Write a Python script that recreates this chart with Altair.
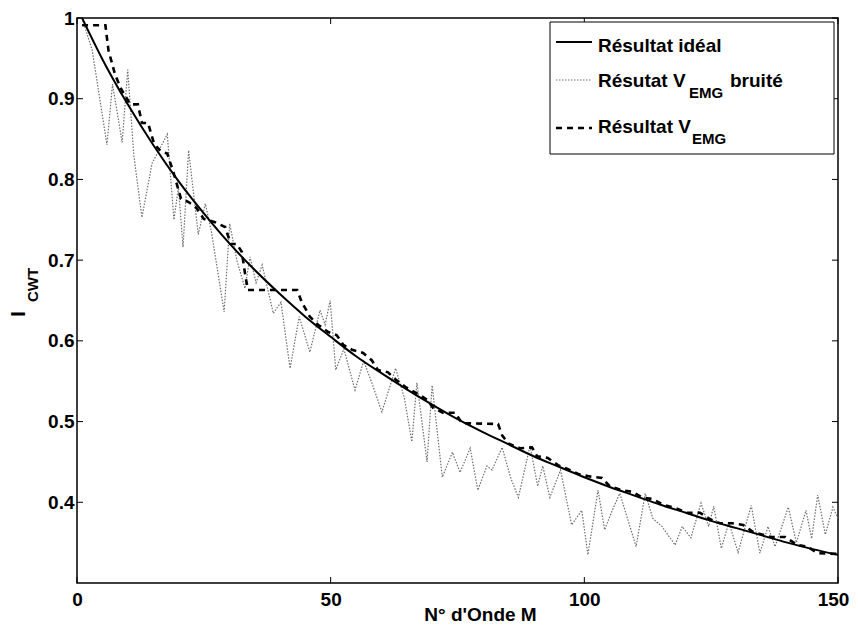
import altair as alt
import pandas as pd

# ---------------- data ----------------
ideal_x = [1, 5, 10, 15, 20, 25, 30, 35, 40, 45, 50, 55, 60, 65, 70, 75, 80, 85,
           90, 95, 100, 105, 110, 115, 120, 125, 130, 135, 140, 145, 150]
ideal_y = [1.000, 0.949, 0.893, 0.843, 0.798, 0.758, 0.721, 0.688, 0.658, 0.630,
           0.605, 0.581, 0.560, 0.540, 0.521, 0.503, 0.487, 0.472, 0.457, 0.444,
           0.431, 0.419, 0.408, 0.397, 0.387, 0.377, 0.368, 0.359, 0.350, 0.342, 0.335]

noisy_x = [1, 3, 5.9, 7, 8.9, 10, 11.2, 12.8, 14.8, 17.8,
           19.1, 20, 20.9, 22, 23.9, 25.3, 26.5, 29, 30.1, 31.5,
           33.1, 34.1, 35.3, 36.5, 38.7, 40.2, 42, 43.8, 45.9, 47.9,
           48.9, 49.9, 51, 52.6, 54.8, 56.5, 58, 60.1, 62.8, 64.5,
           66, 67, 69, 70, 72, 74, 75.5, 77.5, 79, 80.8,
           81.8, 83.8, 85.5, 87, 89.3, 90.8, 91.8, 93.2, 95.3, 97.5,
           99.5, 100.7, 102.7, 104, 105.5, 107, 110.2, 112, 113.5, 115.3,
           117.9, 119.3, 121, 123, 124.5, 125.5, 127, 128.5, 130.3, 132.9,
           134.6, 136.2, 137.6, 140.2, 141.8, 143.7, 144.8, 146, 147.5, 149,
           150]
noisy_y = [1.0, 0.96, 0.843, 0.918, 0.846, 0.936, 0.83, 0.753, 0.82, 0.856,
           0.75, 0.79, 0.716, 0.836, 0.732, 0.77, 0.735, 0.636, 0.745, 0.70,
           0.665, 0.704, 0.672, 0.694, 0.634, 0.648, 0.566, 0.63, 0.586, 0.638,
           0.62, 0.65, 0.564, 0.59, 0.539, 0.575, 0.55, 0.512, 0.566, 0.53,
           0.475, 0.548, 0.45, 0.545, 0.431, 0.462, 0.437, 0.467, 0.415, 0.445,
           0.44, 0.468, 0.43, 0.406, 0.47, 0.42, 0.445, 0.406, 0.44, 0.372,
           0.39, 0.335, 0.415, 0.366, 0.39, 0.411, 0.345, 0.411, 0.38, 0.37,
           0.347, 0.37, 0.356, 0.399, 0.37, 0.395, 0.343, 0.375, 0.338, 0.396,
           0.337, 0.37, 0.345, 0.394, 0.35, 0.39, 0.355, 0.409, 0.36, 0.394,
           0.38]

clean_x = [1, 5.6, 6.2, 7.5, 8.7, 10.5, 12, 12.8, 14, 15.2, 16.5, 17.8, 19.1,
           20.5, 22, 23.5, 25, 27.2, 29.2, 30.3, 31.5, 32.5, 33.2, 33.7, 43.4,
           44.3, 45.9, 47.5, 49.5, 51.2, 52.5, 54.2, 56.4, 58.1, 59.3, 61.3, 63,
           64.7, 67, 69, 70.2, 72.1, 74.5, 75.9, 83, 83.8, 85, 87.3, 89.7, 90.7,
           92.8, 94.8, 96.8, 98.8, 101.1, 103.5, 105, 107.4, 109.4, 111.4, 113.5,
           115.5, 117.9, 120.2, 122.8, 124.8, 126.7, 129.1, 131.3, 133.3, 136.8,
           139.6, 142, 144, 146, 150]
clean_y = [0.991, 0.991, 0.96, 0.93, 0.912, 0.893, 0.893, 0.87, 0.87, 0.844,
           0.835, 0.832, 0.807, 0.776, 0.772, 0.765, 0.751, 0.747, 0.741, 0.72,
           0.72, 0.71, 0.68, 0.663, 0.663, 0.648, 0.63, 0.62, 0.611, 0.607,
           0.595, 0.589, 0.585, 0.576, 0.564, 0.561, 0.551, 0.543, 0.535, 0.527,
           0.517, 0.511, 0.511, 0.498, 0.497, 0.483, 0.473, 0.467, 0.468, 0.457,
           0.455, 0.446, 0.441, 0.435, 0.432, 0.43, 0.42, 0.415, 0.413, 0.406,
           0.404, 0.397, 0.393, 0.387, 0.387, 0.379, 0.374, 0.374, 0.372, 0.363,
           0.357, 0.357, 0.347, 0.345, 0.337, 0.336]

xticks = [0, 50, 100, 150]
yticks = [0.4, 0.5, 0.6, 0.7, 0.8, 0.9, 1.0]

x_title = "N° d'Onde M"
y_title_main = "I"
y_title_sub = "CWT"
legend_main = ["Résultat idéal", "Résutat V", "Résultat V"]
legend_sub = "EMG"
legend_tail = "bruité"

# ---------------- layout ----------------
W, H = 761, 565
FONT = "Liberation Sans"
FS = 19
GREY = "#6e6e6e"

xs = alt.Scale(domain=[0, 150], nice=False, zero=False)
ys = alt.Scale(domain=[0.3, 1.0], nice=False, zero=False)

x_axis = alt.Axis(
    values=xticks, ticks=False, domain=False, grid=False,
    labelFont=FONT, labelFontSize=FS, labelFontWeight="bold",
    labelColor="black", labelPadding=7, labelFlush=False,
    labelOffset=alt.expr("datum.value == 150 ? -5 : 0"),
    title=x_title, titleFont=FONT, titleFontSize=FS,
    titleFontWeight="bold", titleColor="black",
    titleX=403, titleY=37, titleAlign="center", titleBaseline="alphabetic")
y_axis = alt.Axis(
    values=yticks, format=".1~f", ticks=False, domain=False, grid=False,
    labelFont=FONT, labelFontSize=FS, labelFontWeight="bold",
    labelColor="black", labelPadding=3, labelFlush=False, title="")

XE = alt.X("x:Q", scale=xs, axis=x_axis)
YE = alt.Y("y:Q", scale=ys, axis=y_axis)

one = pd.DataFrame({"k": [0]})


def series(xv, yv, **props):
    df = pd.DataFrame({"x": xv, "y": yv})
    return alt.Chart(df).mark_line(clip=True, **props).encode(x=XE, y=YE)


noisy = series(noisy_x, noisy_y, color=GREY, strokeWidth=1.2,
               strokeDash=[1.5, 1.5])
ideal = series(ideal_x, ideal_y, color="black", strokeWidth=2,
               interpolate="monotone")
clean = series(clean_x, clean_y, color="black", strokeWidth=2.6,
               strokeDash=[6, 5])

# inward ticks on all four sides
xt = pd.DataFrame({"x": xticks})
yt = pd.DataFrame({"y": yticks})
tick_b = alt.Chart(xt).mark_rule(color="black", strokeWidth=1).encode(
    x=XE, y=alt.value(H), y2=alt.value(H - 6))
tick_t = alt.Chart(xt).mark_rule(color="black", strokeWidth=1).encode(
    x=XE, y=alt.value(0), y2=alt.value(6))
tick_l = alt.Chart(yt).mark_rule(color="black", strokeWidth=1).encode(
    y=YE, x=alt.value(0), x2=alt.value(6))
tick_r = alt.Chart(yt).mark_rule(color="black", strokeWidth=1).encode(
    y=YE, x=alt.value(W), x2=alt.value(W - 6))


def label(text, x, y, size=FS, angle=0, align="left"):
    return alt.Chart(pd.DataFrame({"t": [text]})).mark_text(
        font=FONT, fontSize=size, fontWeight="bold", color="black",
        align=align, baseline="alphabetic", angle=angle).encode(
        text="t:N", x=alt.value(x), y=alt.value(y))


# y-axis title with subscript
ytitle = [
    label(y_title_main, -52, 296, size=20, angle=270, align="center"),
    label(y_title_sub, -39, 267, size=15, angle=270, align="center"),
]

# legend box
box = alt.Chart(one).mark_rect(fill="white", stroke="black", strokeWidth=1).encode(
    x=alt.value(473), x2=alt.value(757), y=alt.value(4), y2=alt.value(136))
leg_lines = [
    alt.Chart(one).mark_rule(color="black", strokeWidth=2).encode(
        x=alt.value(479), x2=alt.value(515), y=alt.value(24)),
    alt.Chart(one).mark_rule(color=GREY, strokeWidth=1.2,
                             strokeDash=[1.5, 1.5]).encode(
        x=alt.value(479), x2=alt.value(515), y=alt.value(62)),
    alt.Chart(one).mark_rule(color="black", strokeWidth=2.6,
                             strokeDash=[6, 5]).encode(
        x=alt.value(479), x2=alt.value(515), y=alt.value(110)),
]
leg_text = [
    label(legend_main[0], 521, 34),
    label(legend_main[1], 521, 69),
    label(legend_sub, 612, 80, size=15),
    label(legend_tail, 653, 69),
    label(legend_main[2], 521, 115),
    label(legend_sub, 615, 126, size=15),
]

chart = alt.layer(
    noisy, ideal, clean, tick_b, tick_t, tick_l, tick_r,
    *ytitle, box, *leg_lines, *leg_text
).properties(
    width=W, height=H,
    background="white",
    autosize=alt.AutoSizeParams(type="none"),
    padding={"left": 69, "top": 10, "right": 12, "bottom": 40},
).configure_view(
    stroke="black", strokeWidth=1.5
)

chart.save("out.html", embed_options={"renderer": "svg", "actions": False})
